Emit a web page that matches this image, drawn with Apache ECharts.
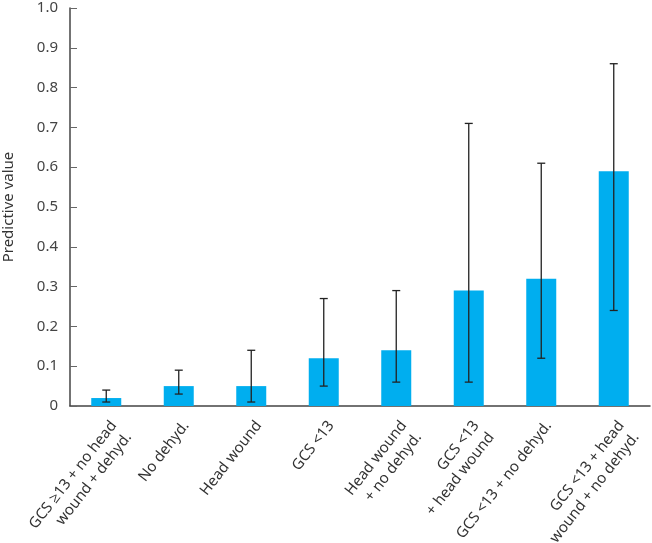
<!DOCTYPE html>
<html><head><meta charset="utf-8">
<script src="https://cdn.jsdelivr.net/npm/echarts@6/dist/echarts.min.js"></script>
<style>html,body{margin:0;padding:0;background:#fff}#c{width:652px;height:543px}</style>
</head><body><div id="c"></div>
<script>
const categories = ["GCS \u226513 + no head\nwound + dehyd.", "No dehyd.", "Head wound", "GCS <13", "Head wound\n+ no dehyd.", "GCS <13\n+ head wound", "GCS <13 + no dehyd.", "GCS <13 + head\nwound + no dehyd."];
const values = [0.02, 0.05, 0.05, 0.12, 0.14, 0.29, 0.32, 0.59];
const lower = [0.01, 0.03, 0.01, 0.05, 0.06, 0.06, 0.12, 0.24];
const upper = [0.04, 0.09, 0.14, 0.27, 0.29, 0.71, 0.61, 0.86];
const yTicks = [0, 0.1, 0.2, 0.3, 0.4, 0.5, 0.6, 0.7, 0.8, 0.9, 1.0];

const errData = categories.map((c, i) => [i, lower[i], upper[i]]);
const font = '"Noto Sans", "Open Sans", sans-serif';
const chart = echarts.init(document.getElementById('c'), null, {renderer: 'canvas'});
chart.setOption({
  animation: false,
  grid: {left: 70, right: 2, top: 8, bottom: 137, containLabel: false, outerBoundsMode: 'none'},
  xAxis: {
    type: 'category', data: categories,
    axisLine: {lineStyle: {color: '#444', width: 1.5}},
    axisTick: {inside: true, length: 6, lineStyle: {color: '#666'}},
    axisLabel: {rotate: 52, color: '#333', fontSize: 15, fontFamily: font, margin: 11, interval: 0, lineHeight: 19, verticalAlign: 'top'}
  },
  yAxis: {
    type: 'value', min: 0, max: 1, interval: 0.1,
    name: 'Predictive value', nameLocation: 'middle', nameRotate: 90, nameGap: 54,
    nameTextStyle: {color: '#333', fontSize: 15, fontFamily: font},
    axisLine: {show: true, lineStyle: {color: '#444', width: 1.5}},
    axisTick: {show: true, inside: true, length: 7, lineStyle: {color: '#666'}},
    splitLine: {show: false},
    axisLabel: {color: '#444', fontSize: 15, fontFamily: font, margin: 12,
      formatter: v => { const t = yTicks.find(x => Math.abs(x - v) < 1e-9); return t === 0 ? '0' : t.toFixed(1); }}
  },
  series: [
    {type: 'bar', data: values, barWidth: 30, itemStyle: {color: '#00AEEF'}},
    {type: 'custom', data: errData, z: 10,
      renderItem: (params, api) => {
        const x = api.value(0);
        const lo = api.coord([x, api.value(1)]);
        const hi = api.coord([x, api.value(2)]);
        const cw = 4;
        const style = {stroke: '#222', lineWidth: 1.3, fill: null};
        return {type: 'group', children: [
          {type: 'line', shape: {x1: lo[0], y1: lo[1], x2: hi[0], y2: hi[1]}, style},
          {type: 'line', shape: {x1: lo[0]-cw, y1: lo[1], x2: lo[0]+cw, y2: lo[1]}, style},
          {type: 'line', shape: {x1: hi[0]-cw, y1: hi[1], x2: hi[0]+cw, y2: hi[1]}, style}
        ]};
      }
    }
  ]
});
</script></body></html>
